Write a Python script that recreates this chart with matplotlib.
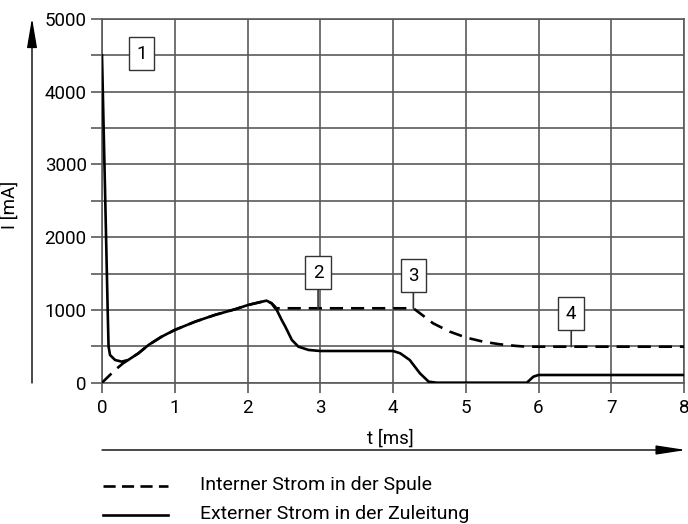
import matplotlib
matplotlib.use('Agg')
import matplotlib.pyplot as plt
from matplotlib.lines import Line2D

plt.rcParams['font.family'] = ['Roboto', 'DejaVu Sans']

# Externer Strom in der Zuleitung (t in ms, I in mA)
t_ext = [0.0, 0.045, 0.078, 0.09, 0.11, 0.18, 0.27, 0.36, 0.5, 0.64, 0.82, 1.0, 1.28, 1.55,
         1.83, 2.01, 2.26, 2.29, 2.33, 2.38, 2.47, 2.52, 2.61, 2.7, 2.84, 3.0, 4.0, 4.1,
         4.23, 4.37, 4.49, 4.6, 5.84, 5.93, 6.0, 8.0]
i_ext = [4500, 2500, 1000, 500, 381, 312, 290, 312, 404, 519, 633, 725, 839, 931,
         1010, 1069, 1128, 1114, 1092, 1045, 862, 770, 587, 495, 450, 436, 436, 404,
         312, 129, 14, 0, 0, 83, 106, 106]

# Interner Strom in der Spule
t_int = [0.0, 0.18, 0.29, 0.36, 0.5, 0.64, 0.82, 1.0, 1.28, 1.55, 1.83, 2.01, 2.26,
         2.33, 2.38, 4.28, 4.37, 4.55, 4.78, 5.01, 5.24, 5.47, 5.7, 5.84, 8.0]
i_int = [0, 175, 267, 312, 404, 519, 633, 725, 839, 931, 1010, 1069, 1128,
         1092, 1023, 1023, 955, 817, 702, 619, 564, 528, 505, 495, 495]

# numbered callouts: label, box position, point on curve (None = no leader)
marks = ['1', '2', '3', '4']
mark_pos = [(0.54, 4520), (2.97, 1510), (4.28, 1470), (6.45, 950)]
mark_tip = [None, (2.97, 1023), (4.28, 1023), (6.45, 495)]

legend_labels = ['Interner Strom in der Spule', 'Externer Strom in der Zuleitung']

W, H = 688, 524
fig = plt.figure(figsize=(W / 100, H / 100), dpi=100)
ax = fig.add_axes([102 / W, 1 - 382.7 / H, 582 / W, 363.7 / H])

ax.set_xlim(0, 8)
ax.set_ylim(0, 5000)
ax.set_xticks(range(0, 9))
ax.set_yticks(range(0, 5001, 500))
ax.set_yticklabels([str(v) if v % 1000 == 0 else '' for v in range(0, 5001, 500)])
ax.grid(True, color='#5a5a5a', lw=1.2)
ax.set_axisbelow(True)
for s in ax.spines.values():
    s.set_color('#5a5a5a')
    s.set_linewidth(1.2)
ax.tick_params(axis='y', length=8, width=1.2, color='#5a5a5a', pad=3, labelsize=13.5)
ax.tick_params(axis='x', length=7, width=1.2, color='#5a5a5a', pad=5, labelsize=13.5)

ax.plot(t_ext, i_ext, color='black', lw=1.9, solid_joinstyle='round', zorder=3)
ax.plot(t_int, i_int, color='black', lw=1.9, linestyle=(0, (5, 3)), zorder=4)

for lab, pos, tip in zip(marks, mark_pos, mark_tip):
    box = dict(boxstyle='square,pad=0.4', fc='white', ec='#333333', lw=1.0)
    if tip is None:
        ax.text(pos[0], pos[1], lab, ha='center', va='center', fontsize=13.5,
                bbox=box, zorder=5)
    else:
        ax.annotate(lab, xy=tip, xytext=pos, ha='center', va='center', fontsize=13.5,
                    bbox=box, zorder=5,
                    arrowprops=dict(arrowstyle='-', color='#333333', lw=1.2,
                                    shrinkA=0, shrinkB=0))

# axis arrows
ax.annotate('', xy=(32 / W, 1 - 18 / H), xytext=(32 / W, 1 - 383 / H),
            xycoords='figure fraction', textcoords='figure fraction',
            arrowprops=dict(arrowstyle='-|>,head_length=1.3,head_width=0.22',
                            color='black', lw=1.0, mutation_scale=14, shrinkA=0, shrinkB=0))
ax.annotate('', xy=(686 / W, 1 - 450 / H), xytext=(102 / W, 1 - 450 / H),
            xycoords='figure fraction', textcoords='figure fraction',
            arrowprops=dict(arrowstyle='-|>,head_length=1.3,head_width=0.2',
                            color='black', lw=1.0, mutation_scale=14, shrinkA=0, shrinkB=0))

fig.text(10 / W, 1 - 205 / H, 'I [mA]', rotation=90, ha='center', va='center', fontsize=13.5)
fig.text(390 / W, 1 - 439 / H, 't [ms]', ha='center', va='center', fontsize=13.5)

# legend
fig.add_artist(Line2D([103 / W, 168 / W], [1 - 486 / H, 1 - 486 / H], color='black',
                      lw=1.9, linestyle=(0, (4.6, 2.4))))
fig.add_artist(Line2D([103 / W, 168 / W], [1 - 515 / H, 1 - 515 / H], color='black', lw=1.9))
fig.text(200 / W, 1 - 485 / H, legend_labels[0], va='center', fontsize=14)
fig.text(200 / W, 1 - 514 / H, legend_labels[1], va='center', fontsize=14)

fig.savefig('out.png', dpi=100)
